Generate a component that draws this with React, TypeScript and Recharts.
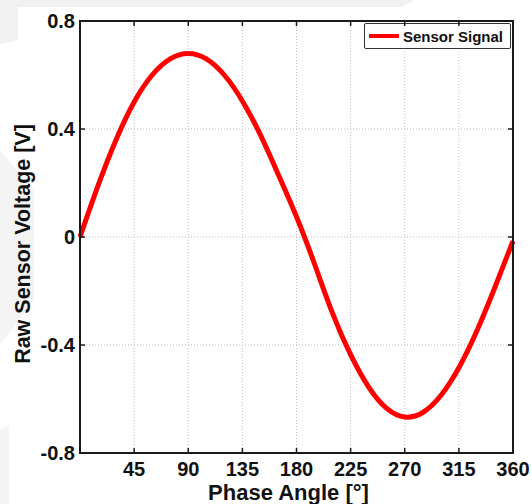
import React from 'react';
import { LineChart, Line, XAxis, YAxis, CartesianGrid, Legend, Label } from 'recharts';

const phaseAngles = [0, 15, 30, 45, 60, 75, 90, 105, 120, 135, 150, 165, 180, 195, 210, 225, 240, 255, 270, 285, 300, 315, 330, 345, 360];
const sensorVoltage = [0, 0.19, 0.36, 0.5, 0.6, 0.66, 0.68, 0.66, 0.6, 0.504, 0.378, 0.23, 0.075, -0.1, -0.283, -0.436, -0.556, -0.635, -0.667, -0.65, -0.587, -0.484, -0.347, -0.186, -0.015];
const xTicks = [45, 90, 135, 180, 225, 270, 315, 360];
const yTicks = [-0.8, -0.4, 0, 0.4, 0.8];
const seriesName = 'Sensor Signal';
const xTitle = 'Phase Angle [°]';
const yTitle = 'Raw Sensor Voltage [V]';

const data = phaseAngles.map((a, i) => ({ angle: a, v: sensorVoltage[i] }));

const FONT = '"Liberation Sans", Arial, Helvetica, sans-serif';
const INK = '#1a1a1a';
const CHART_W = 532;
const CHART_H = 504;
const MARGIN = { top: 21, right: 19, left: 0, bottom: 0 };
const Y_AXIS_W = 80;
const X_AXIS_H = 51;
const PLOT_L = MARGIN.left + Y_AXIS_W;
const PLOT_T = MARGIN.top;
const PLOT_W = CHART_W - PLOT_L - MARGIN.right;
const PLOT_H = CHART_H - PLOT_T - MARGIN.bottom - X_AXIS_H;
const X_DOMAIN = [0, 360];
const Y_DOMAIN = [-0.8, 0.8];
const TICK_LEN = 5;

const sx = (v: number) => PLOT_L + ((v - X_DOMAIN[0]) / (X_DOMAIN[1] - X_DOMAIN[0])) * PLOT_W;
const sy = (v: number) => PLOT_T + ((Y_DOMAIN[1] - v) / (Y_DOMAIN[1] - Y_DOMAIN[0])) * PLOT_H;

const textStyle = { fontFamily: FONT, fontSize: 20, fontWeight: 'bold', fill: '#111' } as const;

const LegendBox = () => (
  <div
    style={{
      boxSizing: 'border-box',
      width: 147,
      height: 26,
      border: '1.5px solid #333',
      borderRadius: 2,
      background: '#fff',
      display: 'flex',
      alignItems: 'center',
      paddingLeft: 4,
      fontFamily: FONT,
      fontWeight: 'bold',
      fontSize: 15,
      color: '#111',
    }}
  >
    <span style={{ display: 'inline-block', width: 30, height: 4, background: '#ff0000', marginRight: 4 }} />
    <span>{seriesName}</span>
  </div>
);

const Frame = () => (
  <>
    <div
      style={{
        position: 'absolute',
        left: PLOT_L - 1,
        top: PLOT_T - 1,
        width: PLOT_W + 2,
        height: PLOT_H + 2,
        boxSizing: 'border-box',
        border: `2px solid ${INK}`,
        pointerEvents: 'none',
        zIndex: 10,
      }}
    />
    <svg width={CHART_W} height={CHART_H} style={{ position: 'absolute', left: 0, top: 0, pointerEvents: 'none', zIndex: 11 }}>
      {xTicks
        .filter((t) => t < X_DOMAIN[1])
        .map((t) => (
          <g key={'x' + t}>
            <line x1={sx(t)} x2={sx(t)} y1={PLOT_T + PLOT_H} y2={PLOT_T + PLOT_H - TICK_LEN} stroke={INK} strokeWidth={1.5} />
            <line x1={sx(t)} x2={sx(t)} y1={PLOT_T} y2={PLOT_T + TICK_LEN} stroke={INK} strokeWidth={1.5} />
          </g>
        ))}
      {yTicks
        .filter((t) => t > Y_DOMAIN[0] && t < Y_DOMAIN[1])
        .map((t) => (
          <g key={'y' + t}>
            <line x1={PLOT_L} x2={PLOT_L + TICK_LEN} y1={sy(t)} y2={sy(t)} stroke={INK} strokeWidth={1.5} />
            <line x1={PLOT_L + PLOT_W} x2={PLOT_L + PLOT_W - TICK_LEN} y1={sy(t)} y2={sy(t)} stroke={INK} strokeWidth={1.5} />
          </g>
        ))}
    </svg>
  </>
);

export default function App() {
  return (
    <div style={{ position: 'absolute', left: 0, top: 0, width: CHART_W, height: CHART_H, background: '#fff' }}>
      <svg width={CHART_W} height={CHART_H} style={{ position: 'absolute', left: 0, top: 0 }}>
        <polygon points="0,0 415,0 401,7 18,7 18,40 0,44" fill="#f1f1f1" />
        <polygon points="0,150 34,190 34,300 0,345" fill="#f4f4f4" />
        <polygon points="0,430 9,425 9,504 0,504" fill="#f4f4f4" />
      </svg>
      <div style={{ position: 'absolute', left: 0, top: 0 }}>
        <LineChart width={CHART_W} height={CHART_H} data={data} margin={MARGIN}>
          <CartesianGrid stroke="#bdbdbd" strokeDasharray="1 2" strokeWidth={1} />
          <XAxis
            dataKey="angle"
            type="number"
            domain={X_DOMAIN}
            ticks={xTicks}
            height={X_AXIS_H}
            tickSize={0}
            tickMargin={9}
            stroke={INK}
            strokeWidth={2}
            tickLine={false}
            tick={textStyle}
            interval={0}
          >
            <Label
              content={(p: any) => {
                const vb = p.viewBox || { x: PLOT_L, y: PLOT_T + PLOT_H, width: PLOT_W, height: X_AXIS_H };
                return (
                  <text
                    x={vb.x + vb.width / 2 - 8}
                    y={500}
                    textAnchor="middle"
                    style={{ fontFamily: FONT, fontSize: 22, fontWeight: 'bold', fill: '#111' }}
                  >
                    {xTitle}
                  </text>
                );
              }}
            />
          </XAxis>
          <YAxis
            type="number"
            domain={Y_DOMAIN}
            ticks={yTicks}
            width={Y_AXIS_W}
            tickSize={0}
            tickMargin={5}
            stroke={INK}
            strokeWidth={2}
            tickLine={false}
            tick={textStyle}
            interval={0}
          >
            <Label
              content={() => (
                <text
                  x={0}
                  y={0}
                  transform="translate(30, 244) rotate(-90)"
                  textAnchor="middle"
                  style={{ fontFamily: FONT, fontSize: 21.5, fontWeight: 'bold', fill: '#111' }}
                >
                  {yTitle}
                </text>
              )}
            />
          </YAxis>
          <Legend
            layout="horizontal"
            verticalAlign="middle"
            align="center"
            content={() => <LegendBox />}
            wrapperStyle={{ top: 23, left: 364, width: 147, height: 26 }}
          />
          <Line
            type="natural"
            dataKey="v"
            name={seriesName}
            stroke="#ff0000"
            strokeWidth={5}
            dot={false}
            isAnimationActive={false}
          />
        </LineChart>
      </div>
      <Frame />
    </div>
  );
}
